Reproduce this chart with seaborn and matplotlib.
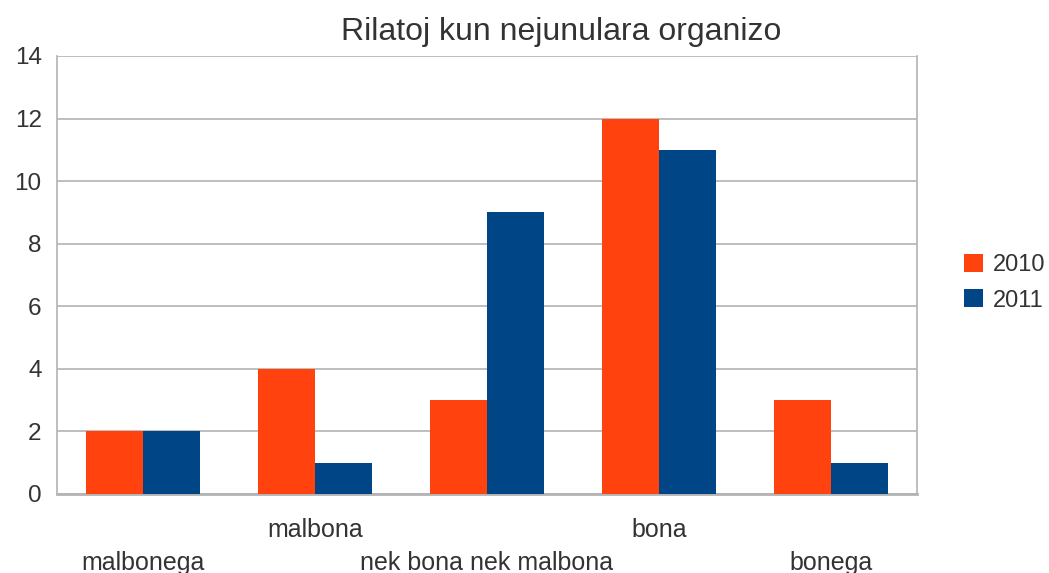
import pandas as pd
import matplotlib
matplotlib.use('Agg')
import matplotlib.pyplot as plt
import seaborn as sns
import numpy as np

# data
categories = ['malbonega', 'malbona', 'nek bona nek malbona', 'bona', 'bonega']
years = ['2010', '2011']
values_2010 = [2, 4, 3, 12, 3]
values_2011 = [2, 1, 9, 11, 1]

df = pd.DataFrame({
    'kategorio': categories * 2,
    'jaro': [years[0]] * len(categories) + [years[1]] * len(categories),
    'valoro': values_2010 + values_2011,
})

sns.set_style('white')
plt.rcParams['font.family'] = ['Liberation Sans', 'DejaVu Sans']
text_color = '#333333'
grid_color = '#b3b3b3'

fig = plt.figure(figsize=(10.49, 5.73), dpi=100)
ax = fig.add_axes([57 / 1049, 1 - 494 / 573, 860 / 1049, 438 / 573])

sns.barplot(data=df, x='kategorio', y='valoro', hue='jaro', order=categories,
            hue_order=years, palette=['#ff420e', '#004586'], width=0.667,
            saturation=1, linewidth=0, ax=ax, zorder=3)

ax.set_xlim(-0.5, len(categories) - 0.5)
ax.set_ylim(0, 14)
ax.set_yticks(np.arange(0, 15, 2))
ax.yaxis.grid(True, color=grid_color, linewidth=1.2, zorder=0)
ax.set_axisbelow(True)
for side in ['top', 'right', 'left', 'bottom']:
    ax.spines[side].set_color(grid_color)
ax.spines['top'].set_visible(False)
ax.spines['bottom'].set_linewidth(2)
ax.spines['right'].set_linewidth(1.2)
ax.spines['left'].set_linewidth(1.2)

ax.tick_params(axis='y', length=7, width=1.2, color=grid_color, labelsize=17.5,
               labelcolor=text_color, pad=4)
ax.set_xticks(np.arange(-0.5, len(categories)), minor=True)
ax.tick_params(axis='x', which='minor', length=11, width=1.2, color=grid_color)
ax.tick_params(axis='x', which='major', length=0, labelsize=18, labelcolor=text_color)
ax.set_xticks(range(len(categories)))
ax.set_xticklabels(categories)
for i, tick in enumerate(ax.xaxis.get_major_ticks()):
    tick.set_pad(41 if i % 2 == 0 else 17)

ax.set_xlabel('')
ax.set_ylabel('')
fig.text(561 / 1049, 1 - 32 / 573, 'Rilatoj kun nejunulara organizo', fontsize=23,
         color=text_color, ha='center', va='center')

ax.legend(loc='center left', bbox_to_anchor=(1.044, 0.482), frameon=False,
          fontsize=17, handlelength=0.8, handleheight=0.8, handletextpad=0.4,
          labelspacing=0.55, labelcolor=text_color, borderaxespad=0)

fig.savefig('out.png', dpi=100)
